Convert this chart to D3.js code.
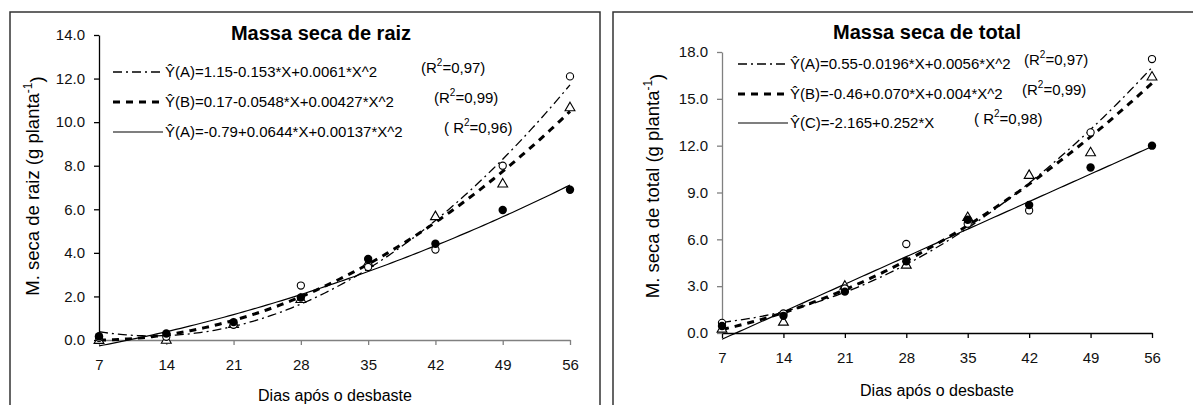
<!DOCTYPE html>
<html>
<head>
<meta charset="utf-8">
<script src="https://cdn.jsdelivr.net/npm/d3@7"></script>
<style>
  body { margin: 0; background: #fff; }
  svg { display: block; font-family: "Liberation Sans", Arial, sans-serif; }
</style>
</head>
<body>
<div id="chart"></div>
<script>
// sampling days
var days = [7, 14, 21, 28, 35, 42, 49, 56]
var xTicks = [7, 14, 21, 28, 35, 42, 49, 56]

// Massa seca de raiz - observed means
var raizA = [0.1, 0.15, 0.7, 2.5, 3.35, 4.15, 8.0, 12.1]
var raizB = [0.02, 0.03, 0.75, 1.9, 3.55, 5.7, 7.2, 10.7]
var raizC = [0.17, 0.3, 0.82, 1.95, 3.72, 4.42, 5.97, 6.9]
// fitted coefficients (b0, b1, b2)
var raizCoefA = [1.15, -0.153, 0.0061]
var raizCoefB = [0.17, -0.0548, 0.00427]
var raizCoefC = [-0.79, 0.0644, 0.00137]
var raizEq = ["Ŷ(A)=1.15-0.153*X+0.0061*X^2", "Ŷ(B)=0.17-0.0548*X+0.00427*X^2", "Ŷ(A)=-0.79+0.0644*X+0.00137*X^2"]
var raizR2 = [["(R", "=0,97)"], ["(R", "=0,99)"], ["( R", "=0,96)"]]
var raizYTicks = [0, 2, 4, 6, 8, 10, 12, 14]

// Massa seca de total - observed means
var totalA = [0.65, 1.25, 2.85, 5.7, 7.0, 7.85, 12.85, 17.55]
var totalB = [0.3, 0.75, 3.05, 4.4, 7.45, 10.15, 11.6, 16.45]
var totalC = [0.45, 1.1, 2.65, 4.6, 7.25, 8.2, 10.6, 12.0]
var totalCoefA = [0.55, -0.0196, 0.0056]
var totalCoefB = [-0.46, 0.070, 0.004]
var totalCoefC = [-2.165, 0.252, 0]
var totalEq = ["Ŷ(A)=0.55-0.0196*X+0.0056*X^2", "Ŷ(B)=-0.46+0.070*X+0.004*X^2", "Ŷ(C)=-2.165+0.252*X"]
var totalR2 = [["(R", "=0,97)"], ["(R", "=0,99)"], ["( R", "=0,98)"]]
var totalYTicks = [0, 3, 6, 9, 12, 15, 18]

var svg = d3.select("#chart").append("svg")
  .attr("width", 1193)
  .attr("height", 405)

var lineStyles = [
  { dash: "9,4,2,4", width: 1.3 },
  { dash: "7,6", width: 3 },
  { dash: null, width: 1.2 }
]

function drawPanel(p) {
  var g = svg.append("g")

  // frame
  g.append("rect")
    .attr("x", p.frame[0]).attr("y", p.frame[1])
    .attr("width", p.frame[2]).attr("height", p.frame[3])
    .attr("fill", "none")
    .attr("stroke", "#333")
    .attr("stroke-width", 1.5)

  var x = d3.scaleLinear().domain([7, 56]).range([p.left, p.right])
  var y = d3.scaleLinear().domain([0, p.yMax]).range([p.bottom, p.top])

  // axes
  var xAxis = g.append("g")
    .attr("transform", "translate(0," + p.bottom + ")")
    .call(d3.axisBottom(x).tickValues(xTicks).tickSize(5).tickPadding(14).tickSizeOuter(0))
  xAxis.selectAll("path, line").attr("stroke", p.xAxisColor).attr("stroke-width", 1.3)
  xAxis.selectAll("text").attr("font-size", 15).attr("fill", "#111")
    .attr("font-family", "Liberation Sans, Arial, sans-serif")

  var yAxis = g.append("g")
    .attr("transform", "translate(" + p.left + ",0)")
    .call(d3.axisLeft(y).tickValues(p.yTicks).tickFormat(d3.format(".1f")).tickSize(5).tickPadding(p.yPad).tickSizeOuter(0))
  yAxis.selectAll("path, line").attr("stroke", p.yAxisColor).attr("stroke-width", 1.3)
  yAxis.selectAll("text").attr("font-size", 15).attr("fill", "#111")
    .attr("font-family", "Liberation Sans, Arial, sans-serif")

  // fitted curves
  var xs = d3.range(7, 56.01, 0.5)
  var line = d3.line().x(function (d) { return x(d[0]) }).y(function (d) { return y(d[1]) })
  p.coefs.forEach(function (c, i) {
    var pts = xs.map(function (v) { return [v, c[0] + c[1] * v + c[2] * v * v] })
    g.append("path")
      .attr("d", line(pts))
      .attr("fill", "none")
      .attr("stroke", "#000")
      .attr("stroke-width", lineStyles[i].width)
      .attr("stroke-dasharray", lineStyles[i].dash)
  })

  // observed points
  var tri = d3.symbol().type(d3.symbolTriangle).size(42)
  p.series[1].forEach(function (v, i) {
    g.append("path")
      .attr("d", tri())
      .attr("transform", "translate(" + x(days[i]) + "," + (y(v) + 1) + ")")
      .attr("fill", "#fff").attr("stroke", "#000").attr("stroke-width", 1.1)
  })
  p.series[0].forEach(function (v, i) {
    g.append("circle")
      .attr("cx", x(days[i])).attr("cy", y(v)).attr("r", 3.6)
      .attr("fill", "#fff").attr("stroke", "#000").attr("stroke-width", 1.1)
  })
  p.series[2].forEach(function (v, i) {
    g.append("circle")
      .attr("cx", x(days[i])).attr("cy", y(v)).attr("r", 4.2)
      .attr("fill", "#000")
  })

  // title
  g.append("text")
    .attr("x", p.titleX).attr("y", p.titleY)
    .attr("text-anchor", "middle").attr("dy", "0.35em")
    .attr("font-size", 20).attr("font-weight", "bold")
    .text(p.title)

  // axis titles
  g.append("text")
    .attr("x", p.xTitleX).attr("y", p.xTitleY)
    .attr("text-anchor", "middle").attr("dy", "0.35em")
    .attr("font-size", 16)
    .text("Dias após o desbaste")

  var yt = g.append("text")
    .attr("transform", "translate(" + p.yTitleX + "," + p.yTitleY + ") rotate(-90)")
    .attr("text-anchor", "middle").attr("dy", "0.35em")
    .attr("font-size", 18.5)
  yt.append("tspan").text(p.yTitle)
  yt.append("tspan").attr("font-size", 12).attr("dy", "-0.6em").text("-1")
  yt.append("tspan").attr("dy", "0.6em").text(")")

  // legend
  p.eq.forEach(function (t, i) {
    var ry = p.legY[i]
    g.append("line")
      .attr("x1", p.legX).attr("x2", p.legX + 50)
      .attr("y1", ry).attr("y2", ry)
      .attr("stroke", "#000")
      .attr("stroke-width", lineStyles[i].width)
      .attr("stroke-dasharray", lineStyles[i].dash)
    g.append("text")
      .attr("x", p.legX + 52).attr("y", ry).attr("dy", "0.35em")
      .attr("font-size", 15)
      .text(t)
    var r = g.append("text")
      .attr("x", p.r2X[i]).attr("y", ry - 4).attr("dy", "0.35em")
      .attr("font-size", 15)
    r.append("tspan").text(p.r2[i][0])
    r.append("tspan").attr("font-size", 10).attr("dy", "-0.7em").text("2")
    r.append("tspan").attr("dy", "0.45em").text(p.r2[i][1])
  })
}

drawPanel({
  frame: [10, 12, 590, 420],
  left: 99, right: 570, top: 35, bottom: 340, yMax: 14,
  yTicks: raizYTicks, yPad: 9,
  xAxisColor: "#808080", yAxisColor: "#000",
  coefs: [raizCoefA, raizCoefB, raizCoefC],
  series: [raizA, raizB, raizC],
  title: "Massa seca de raiz", titleX: 321, titleY: 33,
  xTitleX: 335, xTitleY: 395,
  yTitle: "M. seca de raiz (g planta", yTitleX: 33, yTitleY: 186,
  eq: raizEq, r2: raizR2,
  legX: 113, legY: [72, 102, 132], r2X: [421, 434, 444]
})

drawPanel({
  frame: [613, 12, 620, 420],
  left: 722, right: 1152, top: 52, bottom: 333, yMax: 18,
  yTicks: totalYTicks, yPad: 9,
  xAxisColor: "#000", yAxisColor: "#808080",
  coefs: [totalCoefA, totalCoefB, totalCoefC],
  series: [totalA, totalB, totalC],
  title: "Massa seca de total", titleX: 927, titleY: 32,
  xTitleX: 937, xTitleY: 390,
  yTitle: "M. seca de total (g planta", yTitleX: 653, yTitleY: 186,
  eq: totalEq, r2: totalR2,
  legX: 738, legY: [64, 94, 123], r2X: [1024, 1022, 974]
})
</script>
</body>
</html>
